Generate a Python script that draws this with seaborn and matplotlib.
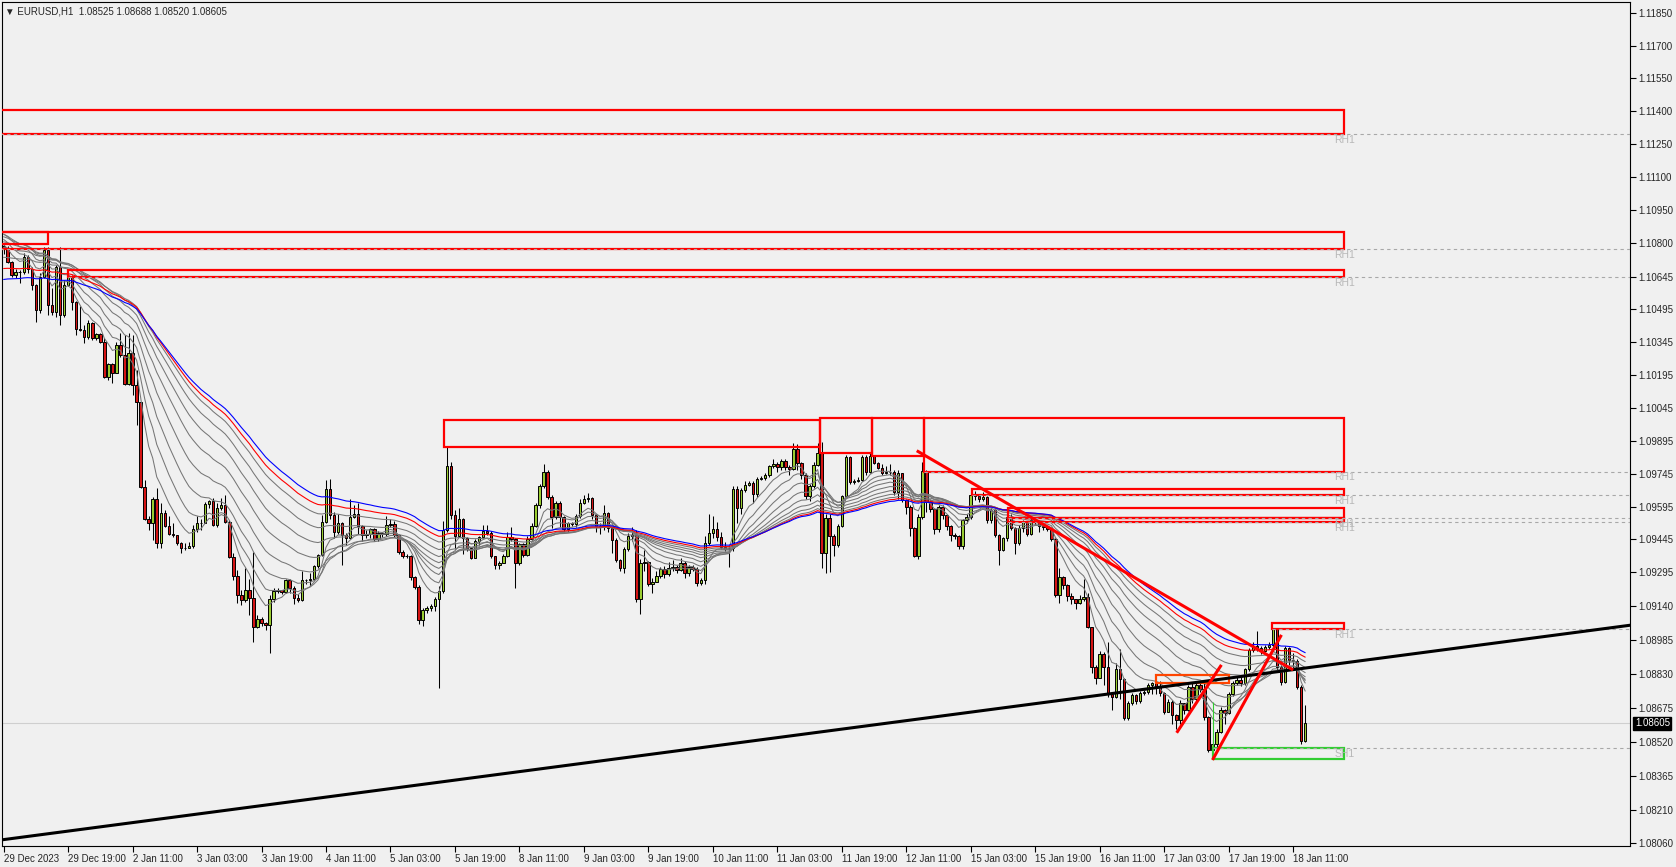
import numpy as np
import pandas as pd
import matplotlib
matplotlib.use("Agg")
import matplotlib.pyplot as plt
import matplotlib.transforms as mtransforms
from matplotlib.patches import Rectangle
import seaborn as sns

# EURUSD H1 candles, in points above 1.08000 (1 point = 0.00001)
base = 1.08
open_first = 2785
close_pts = [
    2775, 2713, 2652, 2667, 2664, 2733, 2680, 2606, 2492, 2644, 2766, 2515, 2484, 2690, 2469, 2609,
    2644, 2530, 2404, 2400, 2367, 2431, 2363, 2381, 2347, 2188, 2246, 2206, 2335, 2287, 2153, 2294,
    2150, 2074, 1685, 1536, 1521, 1628, 1430, 1564, 1506, 1468, 1465, 1430, 1407, 1404, 1414, 1491,
    1518, 1521, 1606, 1620, 1510, 1587, 1602, 1526, 1363, 1278, 1191, 1168, 1214, 1176, 1043, 1080,
    1062, 1054, 1172, 1210, 1212, 1205, 1260, 1222, 1176, 1170, 1260, 1258, 1266, 1324, 1374, 1526,
    1675, 1557, 1477, 1519, 1465, 1450, 1549, 1561, 1508, 1465, 1470, 1491, 1446, 1476, 1470, 1511,
    1514, 1465, 1389, 1371, 1370, 1275, 1229, 1077, 1123, 1130, 1141, 1172, 1210, 1488, 1780, 1557,
    1461, 1537, 1450, 1404, 1362, 1439, 1455, 1484, 1475, 1369, 1328, 1339, 1371, 1455, 1446, 1336,
    1424, 1374, 1446, 1507, 1602, 1689, 1754, 1640, 1549, 1610, 1546, 1491, 1519, 1515, 1552, 1613,
    1628, 1632, 1557, 1504, 1500, 1564, 1496, 1443, 1352, 1313, 1399, 1461, 1465, 1173, 1339, 1340,
    1242, 1252, 1278, 1310, 1286, 1316, 1321, 1305, 1339, 1290, 1317, 1310, 1245, 1260, 1430, 1473,
    1492, 1455, 1412, 1400, 1405, 1675, 1587, 1670, 1694, 1701, 1652, 1721, 1724, 1739, 1780, 1788,
    1774, 1803, 1774, 1768, 1856, 1792, 1740, 1641, 1689, 1785, 1838, 1385, 1542, 1461, 1420, 1507,
    1645, 1820, 1709, 1714, 1717, 1820, 1755, 1826, 1796, 1773, 1750, 1755, 1755, 1663, 1747, 1625,
    1595, 1496, 1370, 1549, 1758, 1618, 1583, 1491, 1592, 1557, 1507, 1466, 1461, 1417, 1534, 1549,
    1648, 1641, 1628, 1640, 1534, 1580, 1466, 1397, 1450, 1549, 1496, 1430, 1499, 1526, 1470, 1534,
    1530, 1504, 1500, 1492, 1446, 1192, 1275, 1237, 1187, 1171, 1153, 1173, 1181, 1044, 861, 811,
    922, 861, 739, 724, 852, 806, 628, 697, 735, 709, 745, 750, 780, 788, 773, 745,
    659, 704, 643, 620, 699, 666, 772, 714, 780, 760, 635, 483, 510, 567, 666, 654,
    737, 790, 805, 790, 851, 940, 958, 950, 935, 955, 963, 1034, 864, 795, 947, 895,
    890, 772, 525, 605,
]
high_pts = [
    2800, 2785, 2715, 2682, 2675, 2751, 2745, 2690, 2610, 2660, 2781, 2781, 2591, 2700, 2781, 2629,
    2659, 2652, 2535, 2510, 2424, 2449, 2439, 2386, 2386, 2363, 2249, 2249, 2347, 2386, 2378, 2386,
    2378, 2218, 2074, 1716, 1552, 1640, 1678, 1612, 1579, 1552, 1518, 1465, 1434, 1430, 1434, 1510,
    1552, 1536, 1617, 1625, 1632, 1612, 1632, 1650, 1533, 1381, 1305, 1214, 1313, 1262, 1389, 1099,
    1090, 1070, 1190, 1225, 1225, 1215, 1265, 1262, 1230, 1195, 1300, 1265, 1290, 1330, 1380, 1555,
    1716, 1720, 1570, 1560, 1525, 1475, 1630, 1600, 1610, 1510, 1490, 1495, 1495, 1485, 1480, 1550,
    1540, 1530, 1470, 1395, 1380, 1375, 1280, 1235, 1130, 1140, 1150, 1180, 1230, 1530, 1869, 1800,
    1580, 1590, 1545, 1455, 1404, 1445, 1460, 1510, 1510, 1485, 1370, 1345, 1380, 1480, 1500, 1450,
    1430, 1430, 1460, 1520, 1610, 1700, 1788, 1760, 1650, 1620, 1620, 1550, 1525, 1525, 1560, 1630,
    1650, 1655, 1640, 1560, 1520, 1600, 1570, 1500, 1450, 1355, 1410, 1475, 1500, 1490, 1355, 1395,
    1345, 1270, 1300, 1320, 1325, 1340, 1350, 1330, 1360, 1345, 1330, 1330, 1320, 1270, 1460, 1560,
    1550, 1525, 1480, 1435, 1420, 1690, 1690, 1680, 1710, 1710, 1712, 1730, 1735, 1750, 1785, 1810,
    1800, 1810, 1810, 1785, 1884, 1880, 1800, 1750, 1700, 1800, 1884, 1890, 1560, 1560, 1470, 1515,
    1650, 1830, 1825, 1720, 1730, 1830, 1830, 1840, 1830, 1800, 1790, 1780, 1790, 1760, 1760, 1750,
    1630, 1600, 1500, 1560, 1800, 1760, 1625, 1590, 1600, 1600, 1560, 1510, 1475, 1465, 1540, 1560,
    1660, 1665, 1650, 1660, 1645, 1590, 1585, 1470, 1455, 1560, 1560, 1500, 1510, 1535, 1530, 1545,
    1545, 1535, 1520, 1505, 1495, 1450, 1313, 1280, 1240, 1200, 1175, 1190, 1263, 1200, 1044, 870,
    935, 930, 975, 750, 880, 943, 810, 705, 745, 740, 755, 760, 790, 795, 800, 800,
    750, 715, 710, 650, 710, 700, 780, 790, 790, 800, 790, 640, 530, 580, 680, 670,
    750, 800, 820, 815, 860, 950, 975, 1026, 960, 965, 975, 1040, 1040, 870, 960, 955,
    925, 900, 780, 688,
]
low_pts = [
    2750, 2705, 2644, 2637, 2614, 2659, 2660, 2583, 2439, 2480, 2640, 2469, 2469, 2462, 2424, 2462,
    2600, 2492, 2378, 2395, 2340, 2360, 2355, 2355, 2340, 2180, 2172, 2160, 2203, 2279, 2150, 2150,
    2104, 1967, 1680, 1533, 1488, 1442, 1404, 1404, 1503, 1465, 1457, 1419, 1381, 1396, 1404, 1404,
    1480, 1488, 1518, 1587, 1506, 1503, 1579, 1518, 1358, 1259, 1153, 1145, 1160, 1099, 978, 1039,
    1050, 1030, 925, 1160, 1200, 1195, 1200, 1200, 1150, 1160, 1165, 1240, 1230, 1260, 1316, 1370,
    1520, 1540, 1450, 1470, 1330, 1420, 1445, 1545, 1470, 1440, 1450, 1450, 1440, 1440, 1455, 1460,
    1500, 1455, 1380, 1360, 1360, 1260, 1220, 1060, 1050, 1110, 1120, 1120, 765, 1200, 1480, 1540,
    1400, 1455, 1380, 1390, 1355, 1360, 1420, 1450, 1465, 1360, 1310, 1310, 1335, 1365, 1440, 1222,
    1330, 1365, 1370, 1440, 1500, 1590, 1680, 1630, 1496, 1540, 1500, 1480, 1480, 1505, 1500, 1545,
    1605, 1615, 1540, 1480, 1470, 1490, 1480, 1382, 1340, 1300, 1290, 1390, 1440, 1160, 1103, 1300,
    1230, 1200, 1250, 1270, 1270, 1280, 1300, 1290, 1300, 1270, 1280, 1300, 1230, 1235, 1240, 1420,
    1450, 1440, 1400, 1390, 1321, 1390, 1520, 1560, 1660, 1690, 1610, 1640, 1715, 1715, 1730, 1770,
    1755, 1760, 1760, 1740, 1760, 1760, 1720, 1630, 1620, 1680, 1780, 1313, 1290, 1298, 1370, 1410,
    1500, 1640, 1700, 1700, 1705, 1710, 1740, 1750, 1790, 1765, 1740, 1745, 1740, 1650, 1630, 1615,
    1560, 1460, 1365, 1355, 1540, 1570, 1570, 1470, 1480, 1540, 1490, 1440, 1445, 1400, 1402, 1520,
    1540, 1625, 1615, 1620, 1520, 1520, 1455, 1330, 1390, 1440, 1490, 1380, 1420, 1480, 1460, 1465,
    1510, 1480, 1490, 1485, 1440, 1180, 1153, 1220, 1165, 1150, 1125, 1150, 1165, 1040, 837, 785,
    810, 780, 725, 665, 720, 715, 620, 620, 690, 695, 700, 735, 740, 740, 740, 730,
    650, 660, 600, 580, 600, 650, 660, 700, 700, 750, 620, 476, 440, 490, 560, 600,
    650, 730, 780, 775, 780, 845, 930, 935, 920, 930, 945, 955, 850, 780, 790, 870,
    860, 760, 510, 520,
]

time_labels = ["29 Dec 2023", "29 Dec 19:00", "2 Jan 11:00", "3 Jan 03:00", "3 Jan 19:00",
               "4 Jan 11:00", "5 Jan 03:00", "5 Jan 19:00", "8 Jan 11:00", "9 Jan 03:00",
               "9 Jan 19:00", "10 Jan 11:00", "11 Jan 03:00", "11 Jan 19:00", "12 Jan 11:00",
               "15 Jan 03:00", "15 Jan 19:00", "16 Jan 11:00", "17 Jan 03:00", "17 Jan 19:00",
               "18 Jan 11:00"]
bars_per_label = 16
price_labels = ["1.11850", "1.11700", "1.11550", "1.11400", "1.11250", "1.11100", "1.10950",
                "1.10800", "1.10645", "1.10495", "1.10345", "1.10195", "1.10045", "1.09895",
                "1.09745", "1.09595", "1.09445", "1.09295", "1.09140", "1.08985", "1.08830",
                "1.08675", "1.08520", "1.08365", "1.08210", "1.08060"]
header = "\u25bc EURUSD,H1  1.08525 1.08688 1.08520 1.08605"
last_price = 1.08605

# moving average ribbon: periods and value on the first visible bar (points)
gray_periods = [8, 13, 19, 26, 34, 42, 50, 58]
gray_start = [2790, 2815, 2839, 2839, 2827, 2804, 2778, 2733]
red_period, red_start = 64, 2682
blue_period, blue_start = 70, 2632

# zones: left bar, right bar, top price, bottom price
zone_left = [-1, -1, -1, 16, 109.3, 202.7, 215.6, 228.5, 240.2, 249.3, 249.3, 314.8, 285.9, 300.0]
zone_right = [332.7, 332.7, 11, 332.7, 202.5, 215.6, 228.5, 332.7, 332.7, 332.7, 332.7, 332.7, 304.0, 332.7]
zone_top = [1.11406, 1.10849, 1.10849, 1.10673, 1.09990, 1.10001, 1.10001, 1.10001, 1.09674,
            1.09590, 1.09541, 1.09065, 1.08828, 1.08491]
zone_bottom = [1.11296, 1.10770, 1.10794, 1.10643, 1.09867, 1.09841, 1.09827, 1.09755, 1.09648,
               1.09541, 1.09525, 1.09035, 1.08788, 1.08441]
zone_kind = ["r", "r", "r", "r", "r", "r", "r", "r", "r", "r", "r", "r", "o", "g"]

# dashed levels with their tags
level_price = [1.11296, 1.10770, 1.10643, 1.09755, 1.09648, 1.09541, 1.09525, 1.09035, 1.08491]
level_from = [-1, -1, 16, 228.5, 240.2, 249.3, 249.3, 314.8, 300.0]
level_tag = ["RH1", "RH1", "RH1", "RH1", "RH1", "RH1", "RH1", "RH1", "SH1"]
tag_bar = 330.3

# trend lines: start bar, end bar, start price, end price
trend_b0 = [-0.5, 226.6, 291.1, 300.0]
trend_b1 = [404.0, 320.0, 302.2, 317.1]
trend_p0 = [1.08073, 1.09850, 1.08562, 1.08438]
trend_p1 = [1.09054, 1.08849, 1.08872, 1.09009]
# thin green marker up from the support box
marker_bar, marker_lo, marker_hi = 300.0, 1.08491, 1.08702


def ema(values, period, start):
    alpha = 2.0 / (period + 1)
    out = [start]
    for v in values[1:]:
        out.append(out[-1] + alpha * (v - out[-1]))
    return out


df = pd.DataFrame({
    "close": base + np.array(close_pts) / 1e5,
    "high": base + np.array(high_pts) / 1e5,
    "low": base + np.array(low_pts) / 1e5,
})
df["bar"] = np.arange(len(df))
df["open"] = df["close"].shift(1).fillna(base + open_first / 1e5)
df["high"] = df[["high", "open", "close"]].max(axis=1)
df["low"] = df[["low", "open", "close"]].min(axis=1)

sns.set_style("white")
plt.rcParams["font.family"] = ["Liberation Sans", "DejaVu Sans"]

W, H = 1676, 867
bg = "#F0F0F0"
fig = plt.figure(figsize=(W / 100, H / 100), dpi=100)
fig.patch.set_facecolor(bg)
ax = fig.add_axes([2 / W, 21 / H, 1628 / W, 844 / H])
ax.set_facecolor(bg)

# candles
up = df["close"] >= df["open"]
ax.vlines(df["bar"], df["low"], df["high"], color="black", lw=0.75, zorder=2)
body_lo = df[["open", "close"]].min(axis=1)
body_h = (df["close"] - df["open"]).abs()
ax.bar(df["bar"], body_h, bottom=body_lo, width=0.62,
       color=np.where(up, "#9ACD32", "#D41414"), edgecolor="black", linewidth=0.7, zorder=3)

# moving averages
closes = df["close"].values
for p, s in zip(gray_periods, gray_start):
    sns.lineplot(x=df["bar"], y=ema(closes, p, base + s / 1e5), color="#767676",
                 lw=0.75, ax=ax, zorder=4, estimator=None, sort=False)
sns.lineplot(x=df["bar"], y=ema(closes, red_period, base + red_start / 1e5), color="#FF0000",
             lw=0.8, ax=ax, zorder=4, estimator=None, sort=False)
sns.lineplot(x=df["bar"], y=ema(closes, blue_period, base + blue_start / 1e5), color="#0000FF",
             lw=0.8, ax=ax, zorder=4, estimator=None, sort=False)

xmin, xmax = -0.4, 403.6

# current price line
ax.axhline(last_price, color="#CFCFCF", lw=0.8, zorder=1)

# zones
zone_colors = {"r": "#FF0000", "o": "#FF4500", "g": "#32CD32"}
for l, r, t, b, k in zip(zone_left, zone_right, zone_top, zone_bottom, zone_kind):
    ax.add_patch(Rectangle((l, b), r - l, t - b, fill=False, ec=zone_colors[k], lw=1.6, zorder=5))
ax.vlines(marker_bar, marker_lo, marker_hi, color="#32CD32", lw=0.8, zorder=5)

# dashed levels and tags
for y, x0, tag in zip(level_price, level_from, level_tag):
    ax.hlines(y, x0, xmax, colors="#A8A8A8", linestyles=(0, (3, 3)), lw=0.8, zorder=6)
    ax.text(tag_bar, y - 0.00003, tag, color="#B8B8B8", fontsize=7.5, ha="left", va="top", zorder=6)

# trend lines
for i, (b0, b1, p0, p1) in enumerate(zip(trend_b0, trend_b1, trend_p0, trend_p1)):
    col = "black" if i == 0 else "#FF0000"
    ax.plot([b0, b1], [p0, p1], color=col, lw=2.2, solid_capstyle="butt", zorder=7)

# axes
ax.set_xlim(xmin, xmax)
ax.set_ylim(1.08045, 1.11899)
ax.yaxis.tick_right()
ax.set_yticks([float(s) for s in price_labels])
ax.set_yticklabels(price_labels)
ax.set_xticks([i * bars_per_label for i in range(len(time_labels))])
ax.set_xticklabels(time_labels, ha="left")
shift = mtransforms.ScaledTranslation(1 / 100, 0, fig.dpi_scale_trans)
for lab in ax.get_xticklabels():
    lab.set_transform(lab.get_transform() + shift)
ax.tick_params(axis="x", length=4, width=0.8, pad=2, labelsize=7, color="black", bottom=True)
ax.tick_params(axis="y", length=4, width=0.8, pad=2, labelsize=7, color="black", right=True, left=False)
for sp in ax.spines.values():
    sp.set_color("black")
    sp.set_linewidth(0.8)
ax.set_xlabel("")
ax.set_ylabel("")

# last price tag on the axis
trans = mtransforms.blended_transform_factory(ax.transAxes, ax.transData)
ax.text(1.003, last_price, f"{last_price:.5f}", transform=trans, color="white", fontsize=7,
        ha="left", va="center", zorder=10,
        bbox=dict(boxstyle="square,pad=0.15", fc="black", ec="black"))

fig.text(5 / W, 1 - 11 / H, header, fontsize=7, ha="left", va="center")

fig.savefig("out.png", dpi=100, facecolor=bg)
